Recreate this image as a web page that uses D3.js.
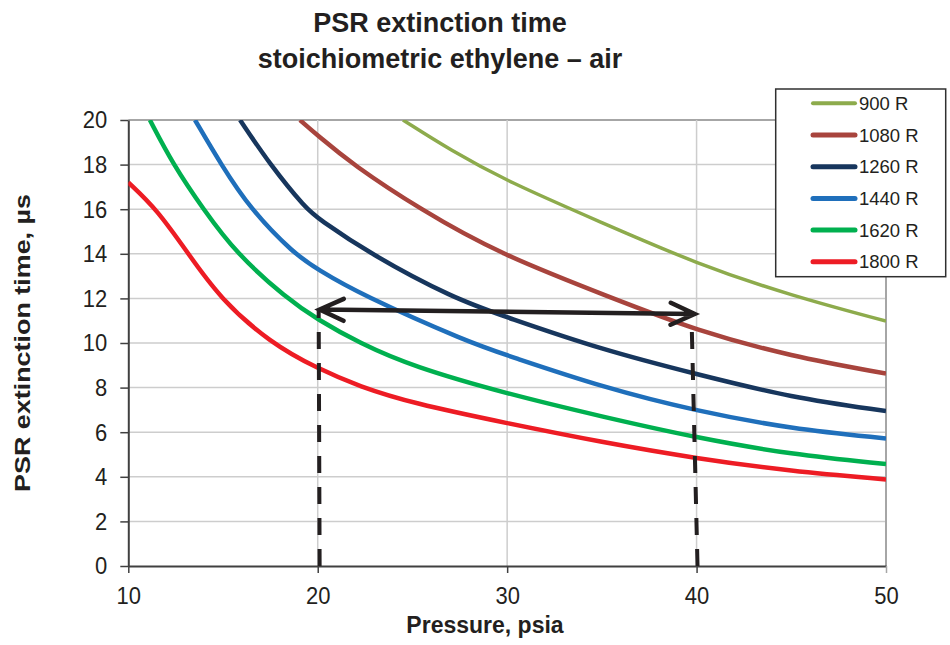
<!DOCTYPE html>
<html>
<head>
<meta charset="utf-8">
<script src="https://cdn.jsdelivr.net/npm/d3@7"></script>
<style>
  body { margin: 0; background: #fff; }
  svg { display: block; font-family: "Liberation Sans", Arial, sans-serif; }
  text { fill: #231f20; }
</style>
</head>
<body>
<svg id="chart"></svg>
<script>
// values (pressure psia, time microseconds)
var pressureTicks = [10, 20, 30, 40, 50];
var timeTicks = [0, 2, 4, 6, 8, 10, 12, 14, 16, 18, 20];
var seriesNames = ["900 R", "1080 R", "1260 R", "1440 R", "1620 R", "1800 R"];

var t900 = [[24.5, 20], [27, 18.65], [30, 17.25], [35, 15.4], [40, 13.55], [45, 12.12], [50, 10.98]];
var t1080 = [[19.06, 20], [20, 19.3], [21.85, 18], [25.4, 16], [29.56, 14], [35.6, 12], [40, 10.55], [45, 9.4], [50, 8.63]];
var t1260 = [[15.9, 20], [17.48, 18], [19.41, 16], [20, 15.6], [22.75, 14], [27.17, 12], [30, 11.15], [35, 9.7], [40, 8.6], [45, 7.55], [50, 6.95]];
var t1440 = [[13.52, 20], [14.9, 18], [16.45, 16], [18.75, 14], [20, 13.3], [22.2, 12.2], [28.05, 10], [30, 9.45], [35.1, 8], [40, 6.95], [45, 6.15], [50, 5.72]];
var t1620 = [[11.14, 20], [12.37, 18], [13.96, 16], [15.72, 14], [18.36, 12], [20, 11.05], [22.2, 10], [25, 8.95], [30, 7.72], [35, 6.7], [40, 5.75], [45, 5.0], [50, 4.57]];
var t1800 = [[10, 17.2], [11.5, 16], [13.17, 14], [14.84, 12], [17.5, 10], [20, 8.85], [22.2, 8.05], [25, 7.3], [30, 6.4], [35, 5.55], [40, 4.82], [45, 4.25], [50, 3.88]];

// annotation: arrow between the 20 and 40 psia points, dashed drops to the axis
var arrowEnds = [[20.1, 11.5], [39.9, 11.3]];
var dropLeft = [[20.1, 0], [20.05, 11.5]];
var dropRight = [[40.05, 0], [39.75, 10.55]];

var seriesData = [t900, t1080, t1260, t1440, t1620, t1800];
var colors = ["#8dab4c", "#a8443d", "#17365d", "#1f6fbb", "#00b04f", "#ed1c24"];
var widths = [3.5, 4.5, 4.5, 4.5, 4.5, 4.5];

var width = 950, height = 645;
var plot = { left: 128.3, right: 886, top: 120, bottom: 566 };
var stretch = 1.12; // tick digits in the source are a little taller than wide

var svg = d3.select('#chart')
    .attr('width', width)
    .attr('height', height);

var x = d3.scaleLinear().domain([10, 50]).range([plot.left, plot.right]);
var y = d3.scaleLinear().domain([0, 20]).range([plot.bottom, plot.top]);

// grid
svg.append('g')
  .selectAll('line')
  .data(timeTicks.filter(d => d > 0))
  .enter()
    .append('line')
    .attr('x1', plot.left).attr('x2', plot.right)
    .attr('y1', d => y(d)).attr('y2', d => y(d))
    .attr('stroke', d => d === 20 ? '#a6a6a6' : '#cdcdcd')
    .attr('stroke-width', d => d === 20 ? 2 : 1.5);

svg.append('g')
  .selectAll('line')
  .data(pressureTicks.filter(d => d > 10))
  .enter()
    .append('line')
    .attr('y1', plot.top).attr('y2', plot.bottom)
    .attr('x1', d => x(d)).attr('x2', d => x(d))
    .attr('stroke', d => d === 50 ? '#a6a6a6' : '#cdcdcd')
    .attr('stroke-width', d => d === 50 ? 2 : 1.5);

// axes
var yAxis = svg.append('g')
    .attr('transform', `translate(${plot.left},0)`)
    .call(d3.axisLeft(y).tickValues(timeTicks).tickSize(8).tickSizeOuter(0).tickPadding(13));

var xAxis = svg.append('g')
    .attr('transform', `translate(0,${plot.bottom})`)
    .call(d3.axisBottom(x).tickValues(pressureTicks).tickSize(7).tickSizeOuter(0).tickPadding(11));

[xAxis, yAxis].forEach(g => {
  g.attr('font-size', 22).attr('font-family', '"Liberation Sans", Arial, sans-serif');
  g.select('.domain').attr('stroke', '#404040').attr('stroke-width', 2);
  g.selectAll('.tick line').attr('stroke', '#404040').attr('stroke-width', 1.5);
  g.selectAll('.tick text')
    .style('fill', '#231f20')
    .attr('transform', `scale(1,${stretch})`);
});
xAxis.selectAll('.tick').filter(d => d === 50).select('line').attr('stroke', '#a6a6a6');

// curves, clipped to the plot area
svg.append('clipPath')
    .attr('id', 'plot-clip')
  .append('rect')
    .attr('x', plot.left)
    .attr('y', plot.top)
    .attr('width', plot.right - plot.left)
    .attr('height', plot.bottom - plot.top);

var line = d3.line()
    .x(d => x(d[0]))
    .y(d => y(d[1]))
    .curve(d3.curveBasis);

svg.append('g')
    .attr('clip-path', 'url(#plot-clip)')
  .selectAll('path')
  .data(seriesData)
  .enter()
    .append('path')
    .attr('d', line)
    .attr('fill', 'none')
    .attr('stroke', (d, i) => colors[i])
    .attr('stroke-width', (d, i) => widths[i]);

// dashed drop lines (drawn bottom-up so a dash sits on the axis)
svg.selectAll('.drop')
  .data([dropLeft, dropRight])
  .enter()
    .append('path')
    .classed('drop', true)
    .attr('d', d3.line().x(d => x(d[0])).y(d => y(d[1])))
    .attr('fill', 'none')
    .attr('stroke', '#231f20')
    .attr('stroke-width', 4)
    .attr('stroke-dasharray', '17,14');

// double-headed arrow
var a0 = [x(arrowEnds[0][0]), y(arrowEnds[0][1])];
var a1 = [x(arrowEnds[1][0]), y(arrowEnds[1][1])];
var ang = Math.atan2(a1[1] - a0[1], a1[0] - a0[0]);

function head(tip, dir) {
  var back = 24, side = 11;
  var ux = Math.cos(ang) * dir, uy = Math.sin(ang) * dir;
  var p1 = [tip[0] - ux * back - uy * side, tip[1] - uy * back + ux * side];
  var p2 = [tip[0] - ux * back + uy * side, tip[1] - uy * back - ux * side];
  return `M${p1}L${tip}L${p2}`;
}

svg.append('path')
    .attr('d', `M${a0}L${a1}` + head(a1, 1) + head(a0, -1))
    .attr('fill', 'none')
    .attr('stroke', '#231f20')
    .attr('stroke-width', 4.5)
    .attr('stroke-linecap', 'round')
    .attr('stroke-linejoin', 'miter');

// legend
var legend = svg.append('g');
legend.append('rect')
    .attr('x', 775.7).attr('y', 89)
    .attr('width', 170).attr('height', 187.7)
    .attr('fill', '#fff')
    .attr('stroke', '#303030')
    .attr('stroke-width', 1.5);

var rows = legend.selectAll('.row')
  .data(seriesNames)
  .enter()
    .append('g')
    .classed('row', true)
    .attr('transform', (d, i) => `translate(0,${103.3 + i * 31.7})`);

rows.append('line')
    .attr('x1', 813).attr('x2', 855)
    .attr('stroke', (d, i) => colors[i])
    .attr('stroke-width', (d, i) => widths[i] + 0.5)
    .attr('stroke-linecap', 'round');

rows.append('text')
    .attr('x', 859)
    .attr('dy', '0.36em')
    .attr('font-size', 18.5)
    .text(d => d);

// titles
var title = svg.append('text')
    .attr('text-anchor', 'middle')
    .attr('font-size', 27)
    .attr('font-weight', 'bold');
title.append('tspan').attr('x', 440).attr('y', 32).text('PSR extinction time');
title.append('tspan').attr('x', 440).attr('y', 68).text('stoichiometric ethylene \u2013 air');

svg.append('text')
    .attr('x', 485)
    .attr('y', 633)
    .attr('text-anchor', 'middle')
    .attr('font-size', 23)
    .attr('font-weight', 'bold')
    .text('Pressure, psia');

svg.append('text')
    .attr('transform', 'translate(30,343) rotate(-90)')
    .attr('text-anchor', 'middle')
    .attr('font-size', 22)
    .attr('font-weight', 'bold')
    .attr('textLength', 298)
    .attr('lengthAdjust', 'spacingAndGlyphs')
    .text('PSR extinction time, \u00b5s');
</script>
</body>
</html>
